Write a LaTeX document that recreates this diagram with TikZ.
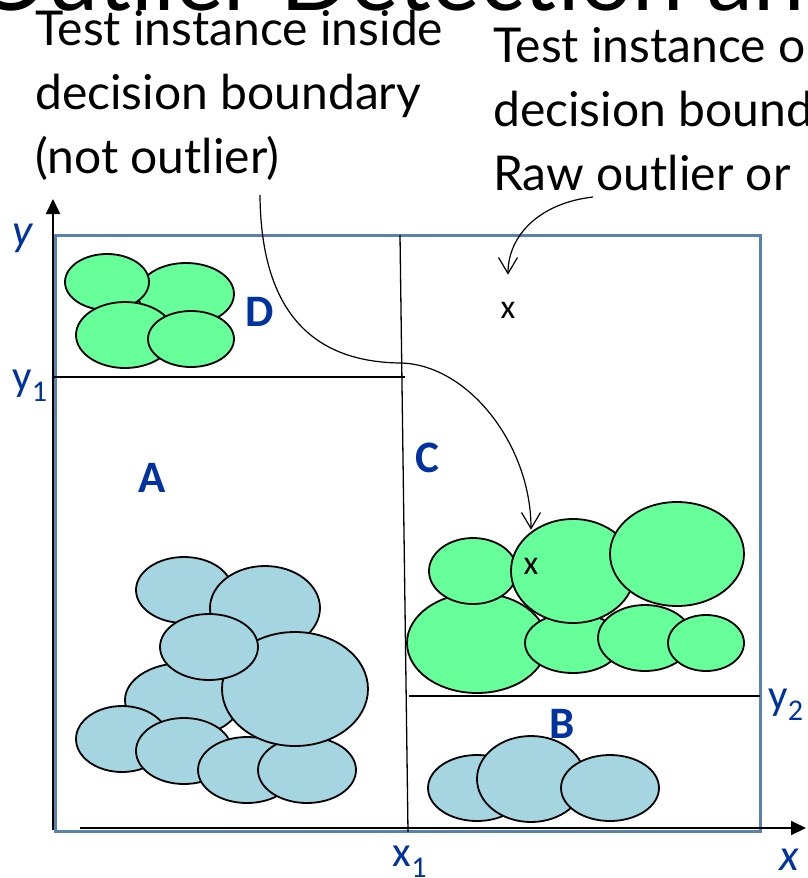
\documentclass[tikz,border=0pt]{standalone}
\usepackage{fontspec}
\usepackage{xcolor}
\usetikzlibrary{arrows.meta}
\newfontfamily\notefont{Lato}
\newfontfamily\labelfont{Carlito}
\definecolor{frame-blue}{HTML}{5A82AE}
\definecolor{label-blue}{HTML}{0033A0}
\definecolor{blob-green}{HTML}{66FF99}
\definecolor{blob-blue}{HTML}{A5D5E0}

\begin{document}
\begin{tikzpicture}[x=1pt, y=-1pt,
      every node/.style={inner sep=0pt},
      note/.style={font=\notefont\fontsize{48}{64}\selectfont, align=left, anchor=north west},
      green blob/.style={draw=black, line width=1.8pt, fill=blob-green},
      blue blob/.style={draw=black, line width=1.8pt, fill=blob-blue},
      region/.style={font=\labelfont\bfseries\fontsize{45}{45}\selectfont, text=label-blue},
      axis label/.style={font=\labelfont\fontsize{43}{43}\selectfont, text=label-blue},
      axis name/.style={font=\labelfont\itshape\fontsize{45}{45}\selectfont, text=label-blue},
      point/.style={font=\labelfont\fontsize{34}{34}\selectfont},
      pointer/.style={line width=1.2pt, -{Straight Barb[length=16pt, width=19pt]}},
      axis/.style={line width=2pt, -{Triangle[length=15pt, width=14pt]}}]
    \useasboundingbox (0,0) rectangle (807,878);
    \node[font=\notefont\fontsize{92}{92}\selectfont, anchor=base west] (title) at (-26,10) {Outlier Detection and};
    \node[note] (inside-note) at (35,10) {Test instance inside\\decision boundary\\(not outlier)};
    \node[note] (outside-note) at (493,27) {Test instance outside\\decision boundary\\Raw outlier or};

    \draw[frame-blue, line width=3pt] (55,235) rectangle (760,831);
    \draw[axis] (53,830) -- (53,199);
    \draw[axis] (80,828) -- (806,828);
    \draw[line width=1.3pt] (400,235) -- (408,832);
    \draw[line width=1.3pt] (53,377) -- (405,377);
    \draw[line width=1.3pt] (409,696) -- (760,696);

    % D
    \draw[green blob] (186,294) ellipse [x radius=48, y radius=31];
    \draw[green blob] (107,282) ellipse [x radius=42, y radius=28];
    \draw[green blob] (125,335) ellipse [x radius=49, y radius=33];
    \draw[green blob] (191,339) ellipse [x radius=43, y radius=28];
    % A
    \draw[blue blob] (184,590) ellipse [x radius=48, y radius=33];
    \draw[blue blob] (265,608) ellipse [x radius=55, y radius=42];
    \draw[blue blob] (183,700) ellipse [x radius=58, y radius=37];
    \draw[blue blob] (122,739) ellipse [x radius=46, y radius=33];
    \draw[blue blob] (184,751) ellipse [x radius=48, y radius=33];
    \draw[blue blob] (247,770) ellipse [x radius=49, y radius=33];
    \draw[blue blob] (307,770) ellipse [x radius=49, y radius=33];
    \draw[blue blob] (295,689) ellipse [x radius=73, y radius=57];
    \draw[blue blob] (209,647) ellipse [x radius=49, y radius=33];
    % C
    \draw[green blob] (477,643) ellipse [x radius=70, y radius=50];
    \draw[green blob] (473,571) ellipse [x radius=44, y radius=33];
    \draw[green blob] (573,643) ellipse [x radius=48, y radius=30];
    \draw[green blob] (645,638) ellipse [x radius=47, y radius=33];
    \draw[green blob] (706,643) ellipse [x radius=38, y radius=28];
    \draw[green blob] (573,571) ellipse [x radius=62, y radius=52];
    \draw[green blob] (677,554) ellipse [x radius=67, y radius=52];
    % B
    \draw[blue blob] (477,788) ellipse [x radius=49, y radius=33];
    \draw[blue blob] (531,779) ellipse [x radius=54, y radius=43];
    \draw[blue blob] (610,788) ellipse [x radius=49, y radius=33];

    \node[region] (reg-a) at (152,478) {A};
    \node[region] (reg-b) at (562,724) {B};
    \node[region] (reg-c) at (427,458) {C};
    \node[region] (reg-d) at (260,312) {D};

    \node[axis name] (y-name) at (23,238) {y};
    \node[axis label] (y-one) at (30,386) {y\textsubscript{1}};
    \node[axis label] (y-two) at (786,705) {y\textsubscript{2}};
    \node[axis label] (x-one) at (410,862) {x\textsubscript{1}};
    \node[axis name] (x-name) at (789,860) {x};

    \node[point] (x-out) at (508,310) {x};
    \node[point] (x-in) at (531,566) {x};

    \coordinate (inside-tail) at (260,195);
    \coordinate (outside-tail) at (593,197);
    \draw[pointer] (inside-tail) .. controls (261,330) and (330,362) .. (400,363)
          .. controls (468,364) and (531,445) .. ([yshift=28pt]x-in.north);
    \draw[pointer] (outside-tail) .. controls (540,203) and (508,235) .. ([yshift=27pt]x-out.north);
  \end{tikzpicture}
\end{document}
